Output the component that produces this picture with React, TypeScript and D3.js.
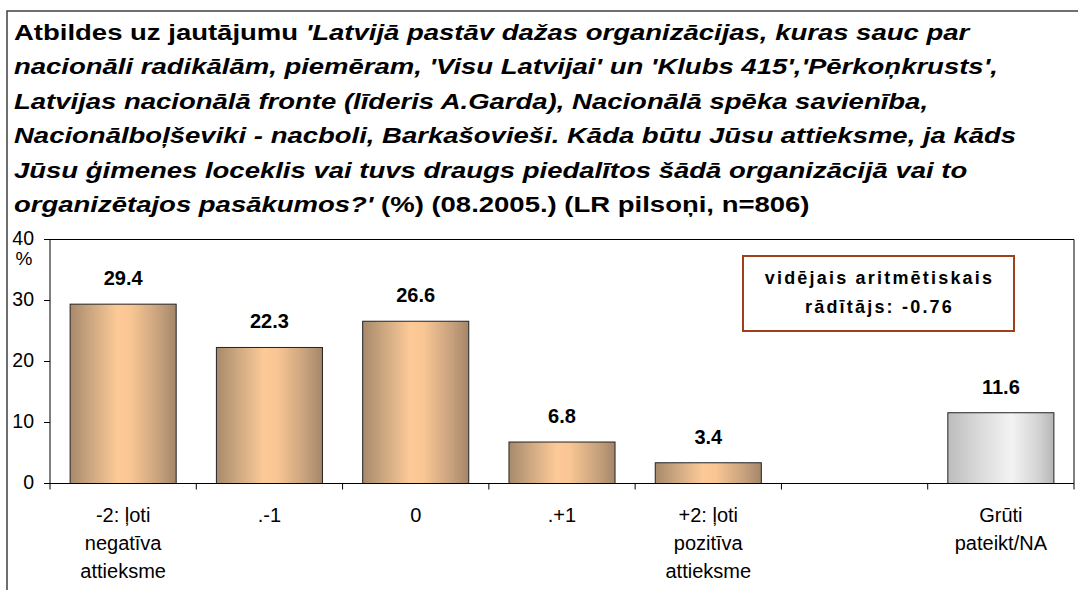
import React from 'react';
import * as d3 from 'd3';

// answer categories (one empty slot before "hard to say")
const CATEGORIES = ['-2', '-1', '0', '+1', '+2', 'gap', 'NA'];
const CATEGORY_LABELS: string[][] = [
  ['-2: ļoti', 'negatīva', 'attieksme'],
  ['.-1'],
  ['0'],
  ['.+1'],
  ['+2: ļoti', 'pozitīva', 'attieksme'],
  [],
  ['Grūti', 'pateikt/NA'],
];
const VALUES: (number | null)[] = [29.4, 22.3, 26.6, 6.8, 3.4, null, 11.6];
const Y_TICKS = [0, 10, 20, 30, 40];

const TITLE_LINES: [string, boolean][][] = [
  [['Atbildes uz jautājumu ', false], ["'Latvijā pastāv dažas organizācijas, kuras sauc par", true]],
  [["nacionāli radikālām, piemēram, 'Visu Latvijai' un 'Klubs 415','Pērkoņkrusts',", true]],
  [['Latvijas nacionālā fronte (līderis A.Garda), Nacionālā spēka savienība,', true]],
  [['Nacionālboļševiki - nacboli, Barkašovieši. Kāda būtu Jūsu attieksme, ja kāds', true]],
  [['Jūsu ģimenes loceklis vai tuvs draugs piedalītos šādā organizācijā vai to', true]],
  [["organizētajos pasākumos?'", true], [' (%) (08.2005.) (LR pilsoņi, n=806)', false]],
];
const NOTE_LINES = ['vidējais aritmētiskais', 'rādītājs: -0.76'];

const W = 1078;
const H = 590;
const PLOT = { left: 50, right: 1074, top: 239.5, bottom: 483.5 };
const FONT = '"Liberation Sans", Arial, sans-serif';
// the original title is rendered horizontally stretched
const TITLE_STRETCH = 1.25;

export default function App() {
  const x = d3.scaleBand<string>()
    .domain(CATEGORIES)
    .range([PLOT.left, PLOT.right])
    .paddingInner(0.275)
    .paddingOuter(0.1375);
  const y = d3.scaleLinear().domain([0, 40]).range([PLOT.bottom, PLOT.top]);
  const step = x.step();

  return (
    <svg width={W} height={H} style={{ position: 'absolute', left: 0, top: 0, background: '#fff' }} fontFamily={FONT}>
      <defs>
        <linearGradient id="tan" x1="0" x2="1" y1="0" y2="0">
          <stop offset="0" stopColor="#a8896b" />
          <stop offset="0.18" stopColor="#c9a57f" />
          <stop offset="0.45" stopColor="#fdca97" />
          <stop offset="0.58" stopColor="#f8c593" />
          <stop offset="0.85" stopColor="#c4a07c" />
          <stop offset="1" stopColor="#a5866a" />
        </linearGradient>
        <linearGradient id="grey" x1="0" x2="1" y1="0" y2="0">
          <stop offset="0" stopColor="#bcbcbc" />
          <stop offset="0.3" stopColor="#dadada" />
          <stop offset="0.6" stopColor="#f3f3f3" />
          <stop offset="0.85" stopColor="#d4d4d4" />
          <stop offset="1" stopColor="#b5b5b5" />
        </linearGradient>
      </defs>

      {/* chart frame, cut off at right/bottom */}
      <rect x={7} y={11} width={W + 20} height={H + 20} fill="none" stroke="#404040" strokeWidth={1.5} />

      {/* title */}
      <g transform={`translate(14,0) scale(${TITLE_STRETCH},1)`}>
        {TITLE_LINES.map((line, i) => (
          <text key={i} x={0} y={40 + i * 34.5} fontSize={22} fontWeight="bold" fill="#000">
            {line.map(([t, it], j) => (
              <tspan key={j} fontStyle={it ? 'italic' : 'normal'} style={{ whiteSpace: 'pre' }}>{t}</tspan>
            ))}
          </text>
        ))}
      </g>

      {/* plot border (top + right) */}
      <path d={`M${PLOT.left},${PLOT.top}H${PLOT.right}V${PLOT.bottom}`} fill="none" stroke="#000" strokeWidth={1} />

      {/* bars */}
      {CATEGORIES.map((c, i) => {
        const v = VALUES[i];
        if (v == null) return null;
        const x0 = x(c)!;
        const y0 = y(v);
        return (
          <g key={c}>
            <rect
              x={x0}
              y={y0}
              width={x.bandwidth()}
              height={y(0) - y0}
              fill={c === 'NA' ? 'url(#grey)' : 'url(#tan)'}
              stroke="#222"
              strokeWidth={1}
            />
            <text
              x={x0 + x.bandwidth() / 2}
              y={y0 - 26}
              textAnchor="middle"
              dominantBaseline="central"
              fontSize={20}
              fontWeight="bold"
            >
              {v.toFixed(1)}
            </text>
          </g>
        );
      })}

      {/* y axis */}
      <line x1={PLOT.left} x2={PLOT.left} y1={PLOT.top} y2={PLOT.bottom} stroke="#000" />
      {Y_TICKS.map((t) => (
        <g key={t}>
          <line x1={PLOT.left - 6} x2={PLOT.left} y1={y(t)} y2={y(t)} stroke="#000" />
          <text x={34} y={y(t) - 2} textAnchor="end" dominantBaseline="central" fontSize={19.5}>
            {t}
          </text>
        </g>
      ))}
      <text x={24} y={258} textAnchor="middle" dominantBaseline="central" fontSize={19}>%</text>

      {/* x axis */}
      <line x1={PLOT.left} x2={PLOT.right} y1={PLOT.bottom} y2={PLOT.bottom} stroke="#000" />
      {d3.range(CATEGORIES.length + 1).map((i) => (
        <line
          key={i}
          x1={PLOT.left + i * step}
          x2={PLOT.left + i * step}
          y1={PLOT.bottom}
          y2={PLOT.bottom + 6}
          stroke="#000"
        />
      ))}
      {CATEGORIES.map((c, i) => (
        <text key={c} textAnchor="middle" fontSize={20} fill="#000">
          {CATEGORY_LABELS[i].map((s, k) => (
            <tspan key={k} x={x(c)! + x.bandwidth() / 2} y={515 + k * 28} dominantBaseline="central">
              {s}
            </tspan>
          ))}
        </text>
      ))}

      {/* mean annotation */}
      <rect x={743} y={256} width={271} height={75} fill="#fff" stroke="#a0401a" strokeWidth={2} />
      {NOTE_LINES.map((s, i) => (
        <text
          key={i}
          x={879.5}
          y={278 + i * 29}
          textAnchor="middle"
          dominantBaseline="central"
          fontSize={18}
          fontWeight="bold"
          letterSpacing={2.2}
        >
          {s}
        </text>
      ))}
    </svg>
  );
}
